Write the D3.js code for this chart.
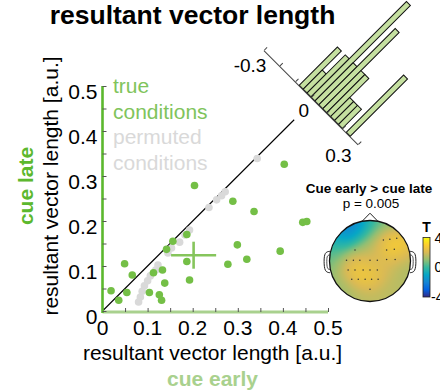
<!DOCTYPE html>
<html>
<head>
<meta charset="utf-8">
<script src="https://cdn.jsdelivr.net/npm/d3@7"></script>
<style>
  html, body { margin: 0; padding: 0; background: #fff; }
  svg { display: block; font-family: "Liberation Sans", Arial, Helvetica, sans-serif; }
</style>
</head>
<body>
<svg id="fig" width="440" height="392"></svg>
<script>
// ---- resultant vector length per condition (true conditions) ----
const trueEarly = [0.019, 0.036, 0.049, 0.054, 0.066, 0.104, 0.113, 0.133, 0.126, 0.131,
                   0.138, 0.142, 0.156, 0.187, 0.187, 0.193, 0.204, 0.289, 0.336, 0.299,
                   0.278, 0.320, 0.394, 0.403, 0.444, 0.453];
const trueLate  = [0.045, 0.024, 0.105, 0.041, 0.080, 0.041, 0.085, 0.091, 0.036, 0.024,
                   0.062, 0.137, 0.155, 0.170, 0.110, 0.069, 0.279, 0.244, 0.221, 0.147,
                   0.104, 0.115, 0.133, 0.326, 0.197, 0.199];

// ---- permuted conditions ----
const permEarly = [0.080, 0.084, 0.088, 0.093, 0.100, 0.106, 0.118, 0.123, 0.145, 0.153,
                   0.171, 0.183, 0.193, 0.236, 0.253, 0.264, 0.272, 0.343];
const permLate  = [0.020, 0.031, 0.044, 0.056, 0.067, 0.078, 0.091, 0.102, 0.129, 0.140,
                   0.153, 0.169, 0.180, 0.230, 0.247, 0.256, 0.265, 0.339];

// ---- group mean and error ----
const meanEarly = 0.202, meanLate = 0.124;
const errEarly = 0.05, errLate = 0.03;
const identityEnd = 0.425;

// ---- axis ticks ----
const axisTicks = [0, 0.1, 0.2, 0.3, 0.4, 0.5];
const axisTickLabels = ["0", "0.1", "0.2", "0.3", "0.4", "0.5"];
const axisMinorTicks = [0, 0.05, 0.1, 0.15, 0.2, 0.25, 0.3, 0.35, 0.4, 0.45, 0.5];

// ---- histogram of early - late differences ----
const diffBinStart = -0.075, diffBinWidth = 0.025;
const diffCounts = [2, 1, 2, 5, 2, 4, 2, 2, 1, 1, 1, 0, 3];
const diffTicks = [-0.3, -0.2, -0.1, 0, 0.1, 0.2, 0.3];
const diffTickLabels = [-0.3, 0, 0.3];

// ---- topography (T values at positions on a unit head) ----
const topoX = [-0.44, -0.67, -0.17, 0.17, 0.62, -0.84, -0.89, -0.20, 0.20, 0.49, 0.67, 0.89,
               0.20, -0.20, -0.49, -0.25, 0.05, 0.40, 0.89, -0.79, 0.67, 0.00, -0.49, 0.44];
const topoY = [-0.84, -0.62, -0.91, -0.96, -0.86, -0.35, 0.02, -0.49, -0.44, -0.47, -0.35, -0.17,
               -0.12, -0.07, 0.12, 0.32, 0.37, 0.17, 0.17, 0.57, 0.62, 0.89, 0.77, 0.81];
const topoT = [-3.4, -1.2, -0.8, 0.3, 0.8, 0.0, 0.6, 0.9, 1.6, 3.4, 3.4, 1.6,
               2.0, 1.9, 2.6, 3.0, 2.6, 1.9, 1.3, 1.0, 1.5, 1.6, 1.3, 1.6];

// significant electrodes
const sigX = [0.33, 0.49, 0.66, -0.37, 0.41, 0.60, -0.58, -0.41, -0.25, 0.00, 0.18, 0.41, 0.62,
              -0.54, -0.37, -0.17, 0.00, 0.18, -0.45, -0.29, -0.12, 0.04, 0.20, 0.00];
const sigY = [-0.52, -0.54, -0.56, -0.27, -0.27, -0.29, -0.02, -0.02, -0.02, -0.02, -0.02, -0.04, -0.04,
              0.22, 0.22, 0.22, 0.22, 0.22, 0.45, 0.45, 0.45, 0.45, 0.45, 0.70];

const cbarTicks = [4, 0, -4];
const cbarTickLabels = ["4", "0", "-4"];
const parula = ["#352a87", "#0363e1", "#1485d4", "#06a7c6", "#38b99e",
                "#92bf73", "#d9ba56", "#fcce2e", "#f9fb0e"];

// ---- colours ----
const GREEN_DOT = "#74bf46";
const GREEN_TEXT = "#80c45c";
const GREEN_AXIS = "#5cb82e";
const GREEN_LIGHT = "#a9d18e";
const GREY_DOT = "#d9d9d9";

const svg = d3.select("#fig");

// ================= scatter =================
const x = d3.scaleLinear([0, 0.5], [102.5, 328]);
const y = d3.scaleLinear([0, 0.5], [311, 86]);

svg.append("line")
  .attr("x1", x(0)).attr("y1", y(0))
  .attr("x2", x(identityEnd)).attr("y2", y(identityEnd))
  .attr("stroke", "#000").attr("stroke-width", 1.1);

svg.append("g").selectAll("circle")
  .data(d3.zip(permEarly, permLate))
  .join("circle")
  .attr("cx", d => x(d[0])).attr("cy", d => y(d[1]))
  .attr("r", 3.8).attr("fill", GREY_DOT);

svg.append("g").selectAll("circle")
  .data(d3.zip(trueEarly, trueLate))
  .join("circle")
  .attr("cx", d => x(d[0])).attr("cy", d => y(d[1]))
  .attr("r", 3.8).attr("fill", GREEN_DOT);

const cross = svg.append("g").attr("stroke", "#86c55c").attr("stroke-width", 2.6);
cross.append("line")
  .attr("x1", x(meanEarly - errEarly)).attr("x2", x(meanEarly + errEarly))
  .attr("y1", y(meanLate)).attr("y2", y(meanLate));
cross.append("line")
  .attr("x1", x(meanEarly)).attr("x2", x(meanEarly))
  .attr("y1", y(meanLate - errLate)).attr("y2", y(meanLate + errLate));

// x axis
const xAxisG = svg.append("g").attr("transform", `translate(0,${y(0) + 1})`);
xAxisG.append("line").attr("x1", x(0)).attr("x2", x(0.5))
  .attr("stroke", GREEN_LIGHT).attr("stroke-width", 3);
xAxisG.call(d3.axisBottom(x).tickValues(axisMinorTicks).tickSizeInner(-4).tickSizeOuter(0).tickFormat(""));
xAxisG.select(".domain").remove();
xAxisG.selectAll(".tick line").attr("stroke", "#555");

// y axis
const yAxisG = svg.append("g").attr("transform", `translate(${x(0)},0)`);
yAxisG.append("line").attr("y1", y(0) + 2).attr("y2", y(0.5))
  .attr("stroke", GREEN_AXIS).attr("stroke-width", 2.6);
yAxisG.call(d3.axisLeft(y).tickValues(axisMinorTicks).tickSizeInner(-4).tickSizeOuter(0).tickFormat(""));
yAxisG.select(".domain").remove();
yAxisG.selectAll(".tick line").attr("stroke", "#555");

// tick labels
svg.append("g").selectAll("text")
  .data(axisTicks)
  .join("text")
  .attr("x", d => x(d)).attr("y", y(0) + 24)
  .attr("text-anchor", "middle").attr("font-size", 21)
  .text((d, i) => axisTickLabels[i]);

svg.append("g").selectAll("text")
  .data(axisTicks)
  .join("text")
  .attr("x", x(0) - 5).attr("y", d => y(d) + 12.5)
  .attr("text-anchor", "end").attr("font-size", 21)
  .text((d, i) => axisTickLabels[i]);

// axis titles
svg.append("text")
  .attr("x", 212.5).attr("y", 360)
  .attr("text-anchor", "middle").attr("font-size", 21)
  .text("resultant vector length [a.u.]");
svg.append("text")
  .attr("x", 212.5).attr("y", 386)
  .attr("text-anchor", "middle").attr("font-size", 21).attr("font-weight", "bold")
  .attr("fill", GREEN_LIGHT)
  .text("cue early");
svg.append("text")
  .attr("transform", "translate(58,186) rotate(-90)")
  .attr("text-anchor", "middle").attr("font-size", 21)
  .text("resultant vector length [a.u.]");
svg.append("text")
  .attr("transform", "translate(33,186) rotate(-90)")
  .attr("text-anchor", "middle").attr("font-size", 21).attr("font-weight", "bold")
  .attr("fill", GREEN_AXIS)
  .text("cue late");

// title
svg.append("text")
  .attr("x", 192.5).attr("y", 23.5)
  .attr("text-anchor", "middle").attr("font-size", 26.5).attr("font-weight", "bold")
  .text("resultant vector length");

// legend
const legendLines = [
  { t: "true", c: GREEN_TEXT }, { t: "conditions", c: GREEN_TEXT },
  { t: "permuted", c: GREY_DOT }, { t: "conditions", c: GREY_DOT }
];
svg.append("g").selectAll("text")
  .data(legendLines)
  .join("text")
  .attr("x", 113).attr("y", (d, i) => 93 + i * 25.7)
  .attr("font-size", 21).attr("fill", d => d.c)
  .text(d => d.t);

// ================= rotated difference histogram =================
const hOrigin = [311, 97];
const hx = d3.scaleLinear([-0.3, 0.3], [-66.6, 66.6]);
const hy = d3.scaleLinear([0, 1], [0, -27]);
const hist = svg.append("g").attr("transform", `translate(${hOrigin[0]},${hOrigin[1]}) rotate(45)`);

const bins = diffCounts.map((c, i) => ({
  x0: diffBinStart + i * diffBinWidth,
  x1: diffBinStart + (i + 1) * diffBinWidth,
  count: c
})).filter(b => b.count > 0);

hist.selectAll("rect")
  .data(bins)
  .join("rect")
  .attr("x", d => hx(d.x0)).attr("width", d => hx(d.x1) - hx(d.x0))
  .attr("y", d => hy(d.count)).attr("height", d => hy(0) - hy(d.count))
  .attr("fill", "#c5e0a0").attr("stroke", "#111").attr("stroke-width", 1);

const hAxis = hist.append("g")
  .call(d3.axisBottom(hx).tickValues(diffTicks).tickSizeInner(-4).tickSizeOuter(0).tickFormat(""));
hAxis.select(".domain").attr("stroke", "#444");
hAxis.selectAll(".tick line").attr("stroke", "#444");

// horizontal labels set below-left of the diagonal axis
const c45 = Math.SQRT1_2;
svg.append("g").selectAll("text")
  .data(diffTickLabels)
  .join("text")
  .attr("x", d => hOrigin[0] + hx(d) * c45 - 2 - 15 * d)
  .attr("y", d => hOrigin[1] + hx(d) * c45 + 20 - 7.5 * d)
  .attr("text-anchor", "end").attr("font-size", 19)
  .text(d => String(d));

// ================= topography =================
const head = { cx: 370, cy: 261, r: 40.5 };
const hs = d3.scaleLinear([-1, 1], [head.cx - head.r, head.cx + head.r]);
const vs = d3.scaleLinear([-1, 1], [head.cy - head.r, head.cy + head.r]);
const color = d3.scaleLinear(d3.range(9).map(i => -4 + i), parula).clamp(true);

svg.append("text")
  .attr("x", 369).attr("y", 192.5)
  .attr("text-anchor", "middle").attr("font-size", 13.5).attr("font-weight", "bold")
  .text("Cue early > cue late");
svg.append("text")
  .attr("x", 371).attr("y", 208)
  .attr("text-anchor", "middle").attr("font-size", 13.5)
  .text("p = 0.005");

// field via Gaussian-weighted smoothing of the T values
const sigma = 0.26;
function field(px, py) {
  let num = 0, den = 0;
  for (let k = 0; k < topoT.length; k++) {
    const dx = px - topoX[k], dy = py - topoY[k];
    const w = Math.exp(-(dx * dx + dy * dy) / (2 * sigma * sigma));
    num += w * topoT[k]; den += w;
  }
  return num / den;
}
const res = 3;
const size = Math.round(2 * head.r * res);
const canvas = document.createElement("canvas");
canvas.width = size; canvas.height = size;
const ctx = canvas.getContext("2d");
const img = ctx.createImageData(size, size);
for (let j = 0; j < size; j++) {
  for (let i = 0; i < size; i++) {
    const nx = ((i + 0.5) / size) * 2 - 1;
    const ny = ((j + 0.5) / size) * 2 - 1;
    const c = d3.rgb(color(field(nx, ny)));
    const o = (j * size + i) * 4;
    img.data[o] = c.r; img.data[o + 1] = c.g; img.data[o + 2] = c.b; img.data[o + 3] = 255;
  }
}
ctx.putImageData(img, 0, 0);

const defs = svg.append("defs");
defs.append("clipPath").attr("id", "headClip")
  .append("circle").attr("cx", head.cx).attr("cy", head.cy).attr("r", head.r);

// ears and nose
const earPath = side => {
  const s = side;
  const pts = [[s * 0.99, -0.24], [s * 1.12, -0.22], [s * 1.14, 0.0], [s * 1.12, 0.27], [s * 0.99, 0.29]];
  return d3.line().curve(d3.curveBasis)(pts.map(p => [hs(p[0]), vs(p[1])]));
};
const earInner = side => {
  const s = side;
  const pts = [[s * 0.99, -0.15], [s * 1.06, -0.14], [s * 1.07, 0.0], [s * 1.06, 0.2], [s * 0.99, 0.21]];
  return d3.line().curve(d3.curveBasis)(pts.map(p => [hs(p[0]), vs(p[1])]));
};
[-1, 1].forEach(s => {
  svg.append("path").attr("d", earPath(s)).attr("fill", "#fff").attr("stroke", "#222").attr("stroke-width", 1);
  svg.append("path").attr("d", earInner(s)).attr("fill", "none").attr("stroke", "#222").attr("stroke-width", 0.8);
});
svg.append("path")
  .attr("d", d3.line()([[-0.19, -0.985], [0, -1.18], [0.19, -0.985]].map(p => [hs(p[0]), vs(p[1])])))
  .attr("fill", "#fff").attr("stroke", "#222").attr("stroke-width", 1);

svg.append("image")
  .attr("href", canvas.toDataURL())
  .attr("x", head.cx - head.r).attr("y", head.cy - head.r)
  .attr("width", 2 * head.r).attr("height", 2 * head.r)
  .attr("preserveAspectRatio", "none")
  .attr("clip-path", "url(#headClip)");

svg.append("circle")
  .attr("cx", head.cx).attr("cy", head.cy).attr("r", head.r)
  .attr("fill", "none").attr("stroke", "#111").attr("stroke-width", 1.3);

svg.append("g").selectAll("circle")
  .data(d3.zip(sigX, sigY))
  .join("circle")
  .attr("cx", d => hs(d[0])).attr("cy", d => vs(d[1]))
  .attr("r", 0.75).attr("fill", "#333");

// colour bar
const cb = { x: 423, w: 7 };
const cby = d3.scaleLinear([-4, 4], [297, 237.5]);
const grad = defs.append("linearGradient").attr("id", "parulaGrad")
  .attr("x1", 0).attr("y1", 1).attr("x2", 0).attr("y2", 0);
grad.selectAll("stop")
  .data(parula)
  .join("stop")
  .attr("offset", (d, i) => i / (parula.length - 1))
  .attr("stop-color", d => d);
svg.append("rect")
  .attr("x", cb.x).attr("y", cby(4)).attr("width", cb.w).attr("height", cby(-4) - cby(4))
  .attr("fill", "url(#parulaGrad)").attr("stroke", "#222").attr("stroke-width", 0.8);
svg.append("text")
  .attr("x", cb.x + cb.w / 2).attr("y", 232)
  .attr("text-anchor", "middle").attr("font-size", 14).attr("font-weight", "bold")
  .text("T");
svg.append("g").selectAll("text")
  .data(cbarTicks)
  .join("text")
  .attr("x", d => d < 0 ? 431 : 434.5).attr("y", d => cby(d) + 5)
  .attr("font-size", 14)
  .text((d, i) => cbarTickLabels[i]);
</script>
</body>
</html>
